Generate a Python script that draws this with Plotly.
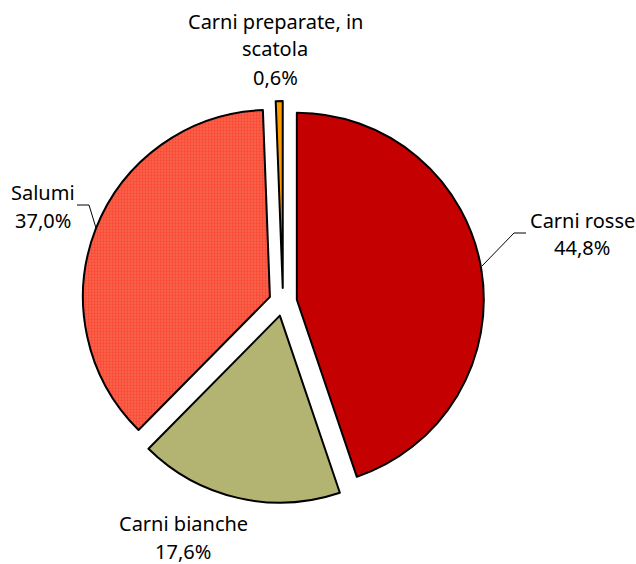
import plotly.graph_objects as go

# Quota per tipologia di carne (%)
labels = ["Carni rosse", "Carni bianche", "Salumi", "Carni preparate, in scatola"]
values = [44.8, 17.6, 37.0, 0.6]
label_lines = [["Carni rosse"], ["Carni bianche"], ["Salumi"], ["Carni preparate, in", "scatola"]]

W, H = 636, 564
colors = ["#c40000", "#b3b372", "#f7644e", "#ff9900"]

# label anchor: x centre and baseline of the first text line, in pixels from top-left
label_pos = [(582, 227), (183, 530), (43, 199), (275, 28)]
LINE_GAP = 28


def px(x, y):
    return x / W, 1 - y / H


fig = go.Figure()
fig.add_trace(go.Pie(
    labels=labels, values=values,
    sort=False, direction="clockwise", rotation=0,
    pull=[0.075] * len(values),
    textinfo="none", hoverinfo="label+percent",
    marker=dict(
        colors=colors,
        line=dict(color="black", width=2),
        pattern=dict(shape=["", "", ".", ""], size=3, solidity=0.45,
                     fgcolor=["#c40000", "#b3b372", "#ff2a14", "#ff9900"],
                     fillmode="overlay"),
    ),
    domain=dict(x=[82 / W, 484 / W], y=[61 / H, 463 / H]),
    showlegend=False,
))

for lines, v, (x, y) in zip(label_lines, values, label_pos):
    rows = lines + [f"{v:.1f}%".replace(".", ",")]
    for i, row in enumerate(rows):
        ax, ay = px(x, y + i * LINE_GAP - 7)
        fig.add_annotation(
            x=ax, y=ay, xref="paper", yref="paper", text=row,
            showarrow=False, xanchor="center", yanchor="middle",
            font=dict(family="Noto Sans", size=20, color="black"),
        )

# leader lines (Carni rosse, Salumi)
for pts in ([(482, 266), (514, 233), (526, 233)], [(77, 205), (89, 205), (96, 228)]):
    path = "M " + " L ".join(f"{px(x, y)[0]},{px(x, y)[1]}" for x, y in pts)
    fig.add_shape(type="path", path=path, xref="paper", yref="paper",
                  line=dict(color="black", width=1))

fig.update_layout(
    width=W, height=H,
    margin=dict(l=0, r=0, t=0, b=0),
    paper_bgcolor="white", plot_bgcolor="white",
)

fig.write_html("out.html", config={"displayModeBar": False},
               post_script="document.body.style.margin='0';"
                           "document.body.style.overflow='hidden';")
